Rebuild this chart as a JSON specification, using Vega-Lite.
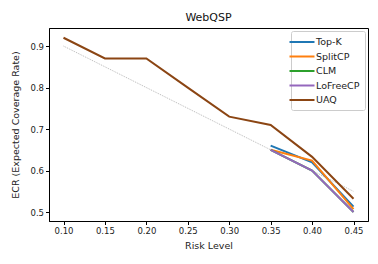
{
  "$schema": "https://vega.github.io/schema/vega-lite/v6.json",
  "width": 319,
  "height": 193,
  "autosize": {"type": "none"},
  "padding": {"left": 49, "top": 28, "right": 10, "bottom": 43},
  "background": "white",
  "config": {
    "font": "DejaVu Sans",
    "view": {"stroke": "black", "strokeWidth": 1},
    "axis": {
      "grid": false,
      "domainColor": "black",
      "tickColor": "black",
      "tickSize": 3.5,
      "labelFontSize": 8.5,
      "labelColor": "#222",
      "titleFontSize": 9.5,
      "titleFontWeight": "normal",
      "titleColor": "#222",
      "labelPadding": 2
    }
  },
  "title": {"text": "WebQSP", "fontSize": 11, "fontWeight": "normal", "color": "#111", "offset": 5},
  "layer": [
    {
      "data": {"values": [{"risk": 0.10, "ecr": 0.90}, {"risk": 0.45, "ecr": 0.55}]},
      "mark": {"type": "line", "color": "#888", "strokeWidth": 0.6, "strokeDash": [1, 1]},
      "encoding": {
        "x": {"field": "risk", "type": "quantitative"},
        "y": {"field": "ecr", "type": "quantitative"}
      }
    },
    {
      "data": {"values": [
        {"method": "Top-K", "risk": 0.35, "ecr": 0.66},
        {"method": "Top-K", "risk": 0.40, "ecr": 0.62},
        {"method": "Top-K", "risk": 0.45, "ecr": 0.513},
        {"method": "SplitCP", "risk": 0.35, "ecr": 0.65},
        {"method": "SplitCP", "risk": 0.40, "ecr": 0.624},
        {"method": "SplitCP", "risk": 0.45, "ecr": 0.507},
        {"method": "CLM", "risk": 0.35, "ecr": 0.65},
        {"method": "CLM", "risk": 0.40, "ecr": 0.60},
        {"method": "CLM", "risk": 0.45, "ecr": 0.50},
        {"method": "LoFreeCP", "risk": 0.35, "ecr": 0.65},
        {"method": "LoFreeCP", "risk": 0.40, "ecr": 0.60},
        {"method": "LoFreeCP", "risk": 0.45, "ecr": 0.50},
        {"method": "UAQ", "risk": 0.10, "ecr": 0.92},
        {"method": "UAQ", "risk": 0.15, "ecr": 0.87},
        {"method": "UAQ", "risk": 0.20, "ecr": 0.87},
        {"method": "UAQ", "risk": 0.25, "ecr": 0.80},
        {"method": "UAQ", "risk": 0.30, "ecr": 0.73},
        {"method": "UAQ", "risk": 0.35, "ecr": 0.71},
        {"method": "UAQ", "risk": 0.40, "ecr": 0.633},
        {"method": "UAQ", "risk": 0.45, "ecr": 0.532}
      ]},
      "mark": {"type": "line", "strokeWidth": 2},
      "encoding": {
        "x": {
          "field": "risk", "type": "quantitative",
          "scale": {"domain": [0.0825, 0.4675], "nice": false, "zero": false},
          "axis": {"title": "Risk Level", "values": [0.10, 0.15, 0.20, 0.25, 0.30, 0.35, 0.40, 0.45], "format": ".2f", "titlePadding": 5}
        },
        "y": {
          "field": "ecr", "type": "quantitative",
          "scale": {"domain": [0.4785, 0.9435], "nice": false, "zero": false},
          "axis": {"title": "ECR (Expected Coverage Rate)", "values": [0.5, 0.6, 0.7, 0.8, 0.9], "format": ".1f", "titlePadding": 9}
        },
        "color": {
          "field": "method", "type": "nominal",
          "scale": {"domain": ["Top-K", "SplitCP", "CLM", "LoFreeCP", "UAQ"], "range": ["#1f77b4", "#ff7f0e", "#2ca02c", "#9467bd", "#8B4513"]},
          "legend": {
            "title": null,
            "orient": "top-right",
            "offset": 3,
            "symbolType": "M-2.5,0H2.5",
            "symbolStrokeWidth": 2,
            "symbolSize": 100,
            "labelFontSize": 9.5,
            "labelOffset": 8,
            "labelColor": "#222",
            "rowPadding": 3.5,
            "strokeColor": "#ccc",
            "fillColor": "white",
            "padding": 5,
            "cornerRadius": 2
          }
        },
        "order": {"field": "method"}
      }
    }
  ]
}
